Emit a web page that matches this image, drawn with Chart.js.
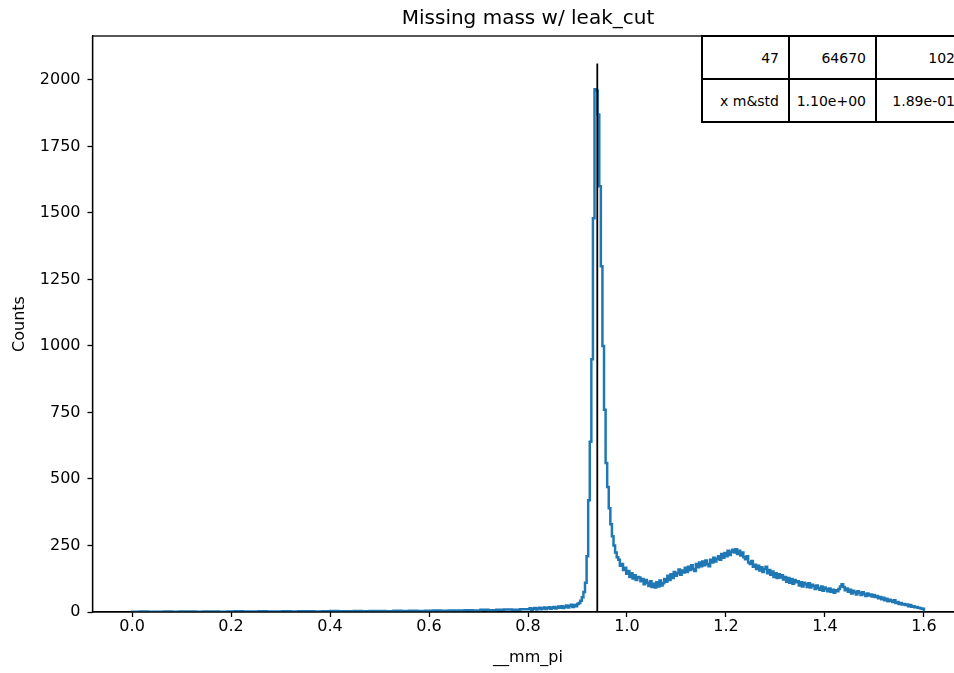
<!DOCTYPE html>
<html>
<head>
<meta charset="utf-8">
<script src="https://cdn.jsdelivr.net/npm/chart.js@4/dist/chart.umd.min.js"></script>
<style>
  html, body { margin:0; padding:0; background:#fff; }
  #wrap { position:relative; width:954px; height:673px; overflow:hidden; }
  #c { position:absolute; left:0; top:0; }
  #stats { position:absolute; left:701px; top:35px; width:263px; border-collapse:collapse; table-layout:fixed;
           background:#fff; font-family:'DejaVu Sans', sans-serif; font-size:14px; color:#000; }
  #stats td { border:2px solid #000; height:43px; box-sizing:border-box;
              text-align:right; padding:0 9px 0 0; white-space:nowrap; overflow:hidden; }
</style>
</head>
<body>
<div id="wrap">
  <canvas id="c" width="1000" height="673"></canvas>
  <table id="stats"><colgroup><col style="width:87px"><col style="width:87px"><col style="width:89px"></colgroup></table>
</div>
<script>
// ---- data ----
const chartTitle = 'Missing mass w/ leak_cut';
const xLabel = '__mm_pi';
const yLabel = 'Counts';

// bins of width 0.016 from 0.0 to 0.8
const lowStart = 0.0, lowWidth = 0.016;
const lowCounts = [1,2,1,1,2,1,2,2,1,2, 2,1,2,3,2,2,3,2,2,3, 2,3,3,2,3,4,3,3,4,3,
                   4,4,3,5,4,5,4,5,6,5, 6,6,7,6,8,7,8,9,8,10];

// bins of width 0.0032 from 0.8 to 1.024
const peakStart = 0.8, peakWidth = 0.0032;
const peakCounts = [10,14,8,12,15,9,13,16,10,14,
                    17,11,15,18,12,16,19,13,17,21,
                    16,22,15,20,24,17,23,27,19,26,
                    22,30,34,42,55,75,110,210,420,640,
                    950,1480,1965,1960,1870,1600,1300,1000,760,560,
                    470,390,330,285,250,224,206,196,174,180,
                    158,166,144,154,132,146,126,138,120,132];

// bins of width 0.0032 from 1.024 to 1.6
const tailStart = 1.024, tailWidth = 0.0032;
const tailCounts = [130,116,124,104,120,110,98,116,94,106,
                    92,112,96,118,100,108,124,114,136,120,
                    142,128,150,136,146,160,140,156,148,166,
                    150,170,158,176,162,154,180,168,186,172,
                    190,176,194,180,172,196,186,204,190,200,
                    210,196,218,204,222,210,230,214,226,234,
                    224,236,218,230,212,224,206,198,210,186,
                    180,192,170,178,162,174,156,168,150,162,
                    170,146,158,140,152,132,146,128,142,130,
                    138,122,132,114,128,110,124,106,120,112,
                    116,100,112,96,110,104,94,108,92,102,
                    98,86,100,90,84,96,80,92,86,78,
                    88,76,84,72,82,78,86,96,104,94,
                    82,88,76,84,70,80,74,66,78,72,
                    64,74,68,60,70,62,66,58,64,56,
                    60,52,56,48,54,44,50,40,46,42,
                    38,44,34,38,30,34,28,30,26,28,
                    22,26,20,22,18,19,16,15,13,12];
const histEnd = 1.6;

const cutPosition = 0.94;
const cutHeight = 2062;

const xTickValues = [0, 0.2, 0.4, 0.6, 0.8, 1.0, 1.2, 1.4, 1.6];
const yTickValues = [0, 250, 500, 750, 1000, 1250, 1500, 1750, 2000];

const tableRows = [
  ['47', '64670', '102'],
  ['x m&std', '1.10e+00', '1.89e-01']
];

// ---- build ----
const histPts = [{x: lowStart, y: 0}];
lowCounts.forEach((c, i) => histPts.push({x: lowStart + i * lowWidth, y: c}));
peakCounts.forEach((c, i) => histPts.push({x: peakStart + i * peakWidth, y: c}));
tailCounts.forEach((c, i) => histPts.push({x: tailStart + i * tailWidth, y: c}));
histPts.push({x: histEnd, y: 0});

const cutPts = [{x: cutPosition, y: 0}, {x: cutPosition, y: cutHeight}];

const tbl = document.getElementById('stats');
tableRows.forEach(r => {
  const tr = document.createElement('tr');
  r.forEach(t => { const td = document.createElement('td'); td.textContent = t; tr.appendChild(td); });
  tbl.appendChild(tr);
});

const FONT = "'DejaVu Sans', sans-serif";

const frame = {
  id: 'frame',
  afterDatasetsDraw(chart) {
    const {ctx, chartArea: a} = chart;
    ctx.save();
    ctx.strokeStyle = '#000';
    ctx.lineWidth = 1.3;
    ctx.strokeRect(a.left, a.top, a.right - a.left, a.bottom - a.top);
    ctx.restore();
  }
};

new Chart(document.getElementById('c'), {
  type: 'line',
  data: {
    datasets: [
      {label: 'cut', data: cutPts, borderColor: '#000', borderWidth: 1.8, pointRadius: 0, order: 0, fill: false},
      {label: xLabel, data: histPts, borderColor: '#1f77b4', borderWidth: 2.5, pointRadius: 0,
       stepped: 'before', order: 1, fill: false}
    ]
  },
  options: {
    responsive: false,
    animation: false,
    devicePixelRatio: 1,
    layout: {padding: {left: 0, right: 36.5, top: 0, bottom: 0}},
    plugins: {
      legend: {display: false},
      tooltip: {enabled: false},
      title: {display: true, text: chartTitle, fullSize: false, color: '#000',
              font: {family: FONT, size: 20, weight: 'normal'}, padding: {top: 7, bottom: 5}}
    },
    scales: {
      x: {
        type: 'linear', min: -0.08, max: 1.68,
        afterBuildTicks: ax => { ax.ticks = xTickValues.map(v => ({value: v})); },
        afterFit: ax => { ax.height = 61; },
        ticks: {color: '#000', font: {family: FONT, size: 16}, padding: 0, maxRotation: 0,
                callback: v => Number(v).toFixed(1)},
        grid: {drawOnChartArea: false, drawTicks: true, tickLength: 5, tickWidth: 1.3, color: '#000'},
        border: {display: true, color: '#000', width: 1.3},
        title: {display: true, text: xLabel, color: '#000', font: {family: FONT, size: 16},
                padding: {top: 0, bottom: 6}}
      },
      y: {
        type: 'linear', min: 0, max: 2165,
        afterBuildTicks: ax => { ax.ticks = yTickValues.map(v => ({value: v})); },
        afterFit: ax => { ax.width = 92.5; },
        ticks: {color: '#000', font: {family: FONT, size: 16}, padding: 7,
                callback: v => String(v)},
        grid: {drawOnChartArea: false, drawTicks: true, tickLength: 5, tickWidth: 1.3, color: '#000'},
        border: {display: true, color: '#000', width: 1.3},
        title: {display: true, text: yLabel, color: '#000', font: {family: FONT, size: 16},
                padding: {top: 10, bottom: 0}}
      }
    }
  },
  plugins: [frame]
});
</script>
</body>
</html>
